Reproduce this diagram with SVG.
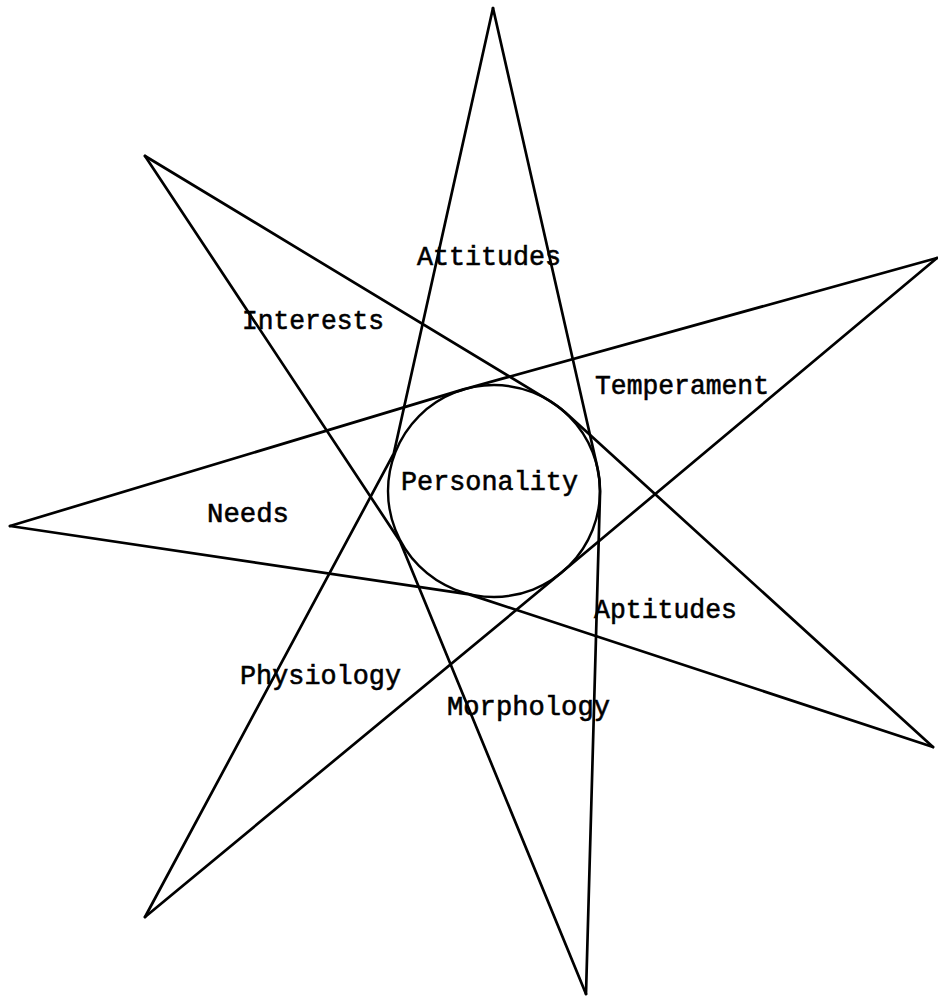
<svg xmlns="http://www.w3.org/2000/svg" width="938" height="999" viewBox="0 0 938 999">
<style>
.ln{fill:none;stroke:#000;stroke-width:2.7;stroke-linejoin:round;stroke-linecap:round}
.lb{font-family:"Liberation Mono","Courier New",monospace;font-size:28.5px;fill:#000;stroke:#000;stroke-width:0.6}
</style>
<rect width="938" height="999" fill="#fff"/>
<g id="connectors">
<path class="ln" d="M493,8 L393.7,453.7 L145,917"/>
<path class="ln" d="M493,8 L597.4,467.5 A106,106 0 0 1 600,494 L586,994"/>
<path class="ln" d="M145,156 L548.8,400.3 A106,106 0 0 1 565.4,412.5 L933,747"/>
<path class="ln" d="M145,156 L400.1,541.4 L586,994"/>
<path class="ln" d="M937,258 L465.7,388.8 A106,106 0 0 0 463.5,389.4 L10,526"/>
<path class="ln" d="M937,258 L561.8,572.3 L145,917"/>
<path class="ln" d="M10,526 L469.1,594.4 L933,747"/>
</g>
<g id="personality">
<circle cx="494" cy="491" r="106" fill="none" stroke="#000" stroke-width="2.4"/>
<text class="lb" x="401" y="490" textLength="177" lengthAdjust="spacingAndGlyphs">Personality</text>
</g>
<g id="attitudes"><text class="lb" x="417" y="265" textLength="144" lengthAdjust="spacingAndGlyphs">Attitudes</text></g>
<g id="interests"><text class="lb" x="242" y="329" textLength="142" lengthAdjust="spacingAndGlyphs">Interests</text></g>
<g id="temperament"><text class="lb" x="595" y="394" textLength="174" lengthAdjust="spacingAndGlyphs">Temperament</text></g>
<g id="needs"><text class="lb" x="207" y="522" textLength="82" lengthAdjust="spacingAndGlyphs">Needs</text></g>
<g id="aptitudes"><text class="lb" x="594" y="618" textLength="143" lengthAdjust="spacingAndGlyphs">Aptitudes</text></g>
<g id="physiology"><text class="lb" x="240" y="684" textLength="161" lengthAdjust="spacingAndGlyphs">Physiology</text></g>
<g id="morphology"><text class="lb" x="447" y="715" textLength="163" lengthAdjust="spacingAndGlyphs">Morphology</text></g>
</svg>
